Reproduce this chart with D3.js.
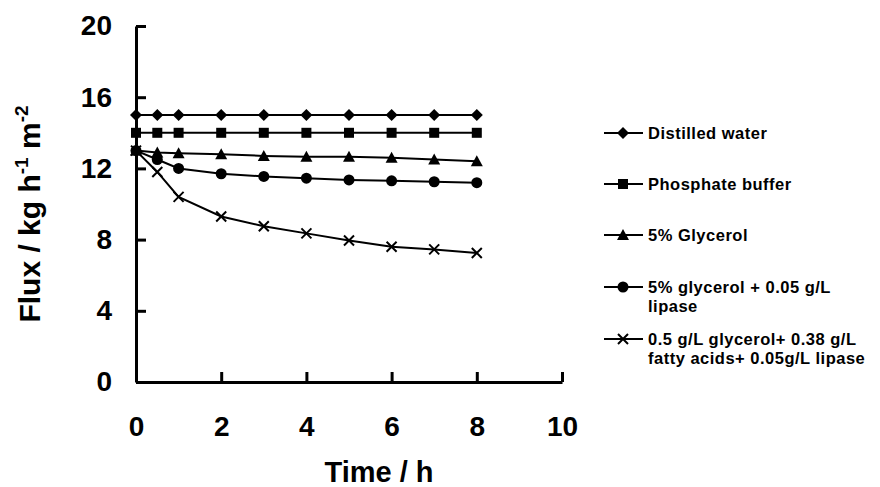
<!DOCTYPE html>
<html>
<head>
<meta charset="utf-8">
<script src="https://cdn.jsdelivr.net/npm/d3@7"></script>
<style>
  body { margin: 0; background: #fff; }
  svg text { font-family: "Liberation Sans", Arial, sans-serif; font-weight: bold; fill: #000; }
</style>
</head>
<body>
<svg id="chart" width="880" height="487"></svg>
<script>
const times = [0, 0.5, 1, 2, 3, 4, 5, 6, 7, 8];
const distilledWater = [15.0, 15.0, 15.0, 15.0, 15.0, 15.0, 15.0, 15.0, 15.0, 15.0];
const phosphateBuffer = [14.0, 14.0, 14.0, 14.0, 14.0, 14.0, 14.0, 14.0, 14.0, 14.0];
const glycerol = [13.0, 12.9, 12.85, 12.8, 12.7, 12.65, 12.65, 12.6, 12.5, 12.4];
const glycerolLipase = [13.0, 12.5, 12.0, 11.7, 11.55, 11.45, 11.35, 11.3, 11.25, 11.2];
const fattyAcidsLipase = [13.0, 11.8, 10.4, 9.3, 8.75, 8.35, 7.95, 7.6, 7.45, 7.25];
const xTicks = [0, 2, 4, 6, 8, 10];
const yTicks = [0, 4, 8, 12, 16, 20];

const series = [
  { name: ["Distilled water"], values: distilledWater, symbol: "diamond" },
  { name: ["Phosphate buffer"], values: phosphateBuffer, symbol: "square" },
  { name: ["5% Glycerol"], values: glycerol, symbol: "triangle" },
  { name: ["5% glycerol + 0.05 g/L", "lipase"], values: glycerolLipase, symbol: "circle" },
  { name: ["0.5 g/L glycerol+ 0.38 g/L", "fatty acids+ 0.05g/L lipase"], values: fattyAcidsLipase, symbol: "cross" }
];

const svg = d3.select("#chart");
const x = d3.scaleLinear().domain([0, 10]).range([136, 562]);
const y = d3.scaleLinear().domain([0, 20]).range([382, 26]);

// axes (ticks point inward)
const xAxis = svg.append("g")
  .attr("transform", `translate(0,${y(0)})`)
  .call(d3.axisBottom(x).tickValues(xTicks).tickSize(-10).tickSizeOuter(0).tickPadding(34));
const yAxis = svg.append("g")
  .attr("transform", `translate(${x(0)},0)`)
  .call(d3.axisLeft(y).tickValues(yTicks).tickSize(-10).tickSizeOuter(0).tickPadding(24));

[xAxis, yAxis].forEach(a => {
  a.attr("font-size", 28).attr("font-family", null);
  a.select(".domain").attr("stroke", "#000").attr("stroke-width", 3);
  a.selectAll(".tick line").attr("stroke", "#000").attr("stroke-width", 3);
  a.selectAll(".tick text").attr("fill", "#000");
});

// symbols
function drawSymbol(g, type, cx, cy) {
  if (type === "diamond") {
    g.append("path").attr("d", `M${cx},${cy - 6}L${cx + 6},${cy}L${cx},${cy + 6}L${cx - 6},${cy}Z`).attr("fill", "#000");
  } else if (type === "square") {
    g.append("rect").attr("x", cx - 5).attr("y", cy - 5).attr("width", 10).attr("height", 10).attr("fill", "#000");
  } else if (type === "triangle") {
    g.append("path").attr("d", `M${cx},${cy - 6}L${cx + 6},${cy + 5}L${cx - 6},${cy + 5}Z`).attr("fill", "#000");
  } else if (type === "circle") {
    g.append("circle").attr("cx", cx).attr("cy", cy).attr("r", 5.5).attr("fill", "#000");
  } else if (type === "cross") {
    g.append("path").attr("d", `M${cx - 5},${cy - 5}L${cx + 5},${cy + 5}M${cx - 5},${cy + 5}L${cx + 5},${cy - 5}`)
      .attr("stroke", "#000").attr("stroke-width", 2).attr("fill", "none");
  }
}

const line = d3.line().x(d => x(d[0])).y(d => y(d[1]));

series.forEach(s => {
  const pts = times.map((t, i) => [t, s.values[i]]);
  svg.append("path").datum(pts).attr("d", line)
    .attr("fill", "none").attr("stroke", "#000").attr("stroke-width", 2);
  const g = svg.append("g");
  pts.forEach(p => drawSymbol(g, s.symbol, x(p[0]), y(p[1])));
});

// axis titles
svg.append("text")
  .attr("x", 379).attr("y", 482)
  .attr("text-anchor", "middle")
  .style("font-size", "29px")
  .text("Time / h");

const yTitle = svg.append("text")
  .attr("transform", "translate(40,214) rotate(-90)")
  .attr("text-anchor", "middle")
  .style("font-size", "30px");
yTitle.append("tspan").text("Flux / kg h");
yTitle.append("tspan").attr("dy", -12).style("font-size", "19px").text("-1");
yTitle.append("tspan").attr("dy", 12).text(" m");
yTitle.append("tspan").attr("dy", -12).style("font-size", "19px").text("-2");

// legend
const legendRows = [133, 184, 235, 287, 339];
series.forEach((s, i) => {
  const ly = legendRows[i];
  const g = svg.append("g");
  g.append("line").attr("x1", 604).attr("x2", 643).attr("y1", ly).attr("y2", ly)
    .attr("stroke", "#000").attr("stroke-width", 2);
  drawSymbol(g, s.symbol, 623, ly);
  s.name.forEach((t, j) => {
    g.append("text").attr("x", 648).attr("y", ly + 6 + j * 18.5)
      .style("font-size", "16.5px").style("letter-spacing", "0.5px").text(t);
  });
});
</script>
</body>
</html>
